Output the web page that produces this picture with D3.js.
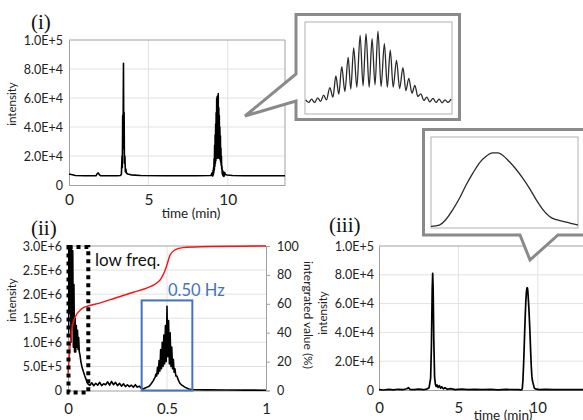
<!DOCTYPE html>
<html>
<head>
<meta charset="utf-8">
<script src="https://cdn.jsdelivr.net/npm/d3@7"></script>
<style>
  body { margin: 0; background: #fff; }
  svg { display: block; }
  .grid line { stroke: #e2e2e2; stroke-width: 1; }
</style>
</head>
<body>
<svg id="chart" width="583" height="420"></svg>
<script>
// ---- (i) raw chromatogram ----
var rawTime = [0, 0.15, 0.4, 1.0, 1.7, 1.78, 1.84, 1.92, 2.0, 3.0, 3.25, 3.3, 3.34, 3.36, 3.38, 3.4, 3.43, 3.45, 3.47, 3.49, 3.52, 3.55, 3.58, 3.62, 3.7, 3.9, 4.5, 6.0, 8.0, 8.9, 8.96,
  9.004, 9.020, 9.036, 9.052, 9.069, 9.085, 9.101, 9.117, 9.135, 9.152, 9.168, 9.184, 9.200, 9.217, 9.235, 9.249, 9.265, 9.282, 9.300, 9.316, 9.332, 9.349, 9.365, 9.381,
  9.397, 9.414, 9.432, 9.448, 9.464, 9.480, 9.498, 9.515, 9.533, 9.549, 9.565, 9.582, 9.598, 9.614, 9.630, 9.647, 9.663, 9.679, 9.697, 9.713, 9.730, 9.746, 9.762, 9.778, 9.795,
  9.85, 9.95, 10.3, 11.0, 13.6];
var rawIntensity = [7600, 7200, 6600, 6400, 6400, 7800, 8300, 7000, 6400, 6400, 6600, 7500, 20000, 12000, 48000, 25000, 84000, 30000, 50000, 15000, 20000, 9000, 11000, 8200, 7600, 7000, 6500, 6400, 6400, 6500, 7000,
  8300, 6200, 8800, 6200, 9900, 7000, 12000, 8300, 18100, 10400, 27300, 12800, 34700, 14900, 42100, 16800, 49800, 18400, 59800, 19400, 61100, 18400, 57200, 20200,
  63000, 18900, 53200, 18400, 47900, 18400, 40000, 17300, 33900, 15700, 25500, 13600, 19900, 11000, 13100, 7800, 10400, 6700, 9400, 6200, 8800, 5900, 8300, 6200, 8800,
  7200, 6900, 6500, 6400, 6400];
var rawZoom = [9.0, 9.8];

// ---- (ii) spectrum (amplitude in 1E+6) and cumulative share ----
var specFreq = [0, 0.003, 0.006, 0.009, 0.012, 0.015, 0.018, 0.021, 0.024, 0.027, 0.030, 0.033, 0.036, 0.039, 0.042, 0.045, 0.048, 0.051, 0.054, 0.057, 0.060, 0.065, 0.070, 0.077, 0.085, 0.094, 0.102, 0.111,
  0.12, 0.13, 0.14, 0.15, 0.16, 0.17, 0.18, 0.19, 0.20, 0.21, 0.22, 0.23, 0.24, 0.25, 0.26, 0.27, 0.28, 0.29, 0.30, 0.31, 0.32, 0.33, 0.34, 0.35, 0.36, 0.37, 0.38, 0.39, 0.40, 0.41, 0.42, 0.43, 0.44,
  0.444, 0.448, 0.452, 0.456, 0.460, 0.464, 0.468, 0.472, 0.476, 0.480, 0.484, 0.488, 0.492, 0.496, 0.500, 0.504, 0.508, 0.512, 0.516, 0.520, 0.524, 0.528, 0.532, 0.536, 0.540, 0.545, 0.550, 0.557, 0.565, 0.575, 0.590, 0.610, 0.630, 0.700, 0.800, 0.900, 1.0];
var specAmp = [3.2, 1.2, 3.3, 1.6, 3.4, 1.0, 3.1, 1.4, 2.9, 0.9, 2.2, 0.8, 1.5, 0.8, 1.35, 0.9, 1.25, 0.85, 1.1, 0.8, 0.75, 0.6, 0.5, 0.4, 0.3, 0.2, 0.13, 0.11,
  0.16, 0.10, 0.15, 0.11, 0.17, 0.10, 0.14, 0.12, 0.18, 0.11, 0.19, 0.12, 0.17, 0.10, 0.15, 0.09, 0.14, 0.08, 0.12, 0.08, 0.11, 0.07, 0.12, 0.07, 0.09, 0.05, 0.03, 0.05, 0.07, 0.09, 0.14, 0.20, 0.28,
  0.34, 0.30, 0.48, 0.35, 0.62, 0.40, 0.85, 0.45, 1.0, 0.50, 1.15, 0.55, 1.35, 0.60, 1.75, 0.70, 1.45, 0.55, 1.2, 0.50, 0.90, 0.45, 0.65, 0.38, 0.45, 0.30, 0.30, 0.22, 0.15, 0.11, 0.07, 0.03, 0.015, 0.012, 0.01, 0.008, 0.006];
var cumFreq = [0, 0.005, 0.01, 0.016, 0.022, 0.03, 0.037, 0.045, 0.061, 0.08, 0.1, 0.16, 0.24, 0.33, 0.4, 0.45, 0.47, 0.49, 0.5, 0.515, 0.54, 0.58, 0.67, 1.0];
var cumPct = [12, 20, 30, 38, 44, 49, 51, 53, 55.5, 57.5, 58.5, 60.5, 64, 68, 71, 74.5, 77.5, 83, 87, 93.5, 97.3, 98.9, 99.5, 100];
var lowFreqBand = [0, 0.1];
var passBand = [0.372, 0.628];
var passBandTop = 1.87;

// ---- (iii) filtered chromatogram ----
var filtTime = [0, 0.3, 0.6, 0.9, 1.2, 1.5, 1.75, 1.85, 1.95, 2.2, 2.5, 2.8, 3.0, 3.15, 3.25, 3.3, 3.35, 3.38, 3.41, 3.45, 3.5, 3.55, 3.6, 3.65, 3.72, 3.8, 3.88, 3.95, 4.05, 4.15, 4.3, 4.5, 4.8, 5.2, 5.6, 6.0, 6.5, 7.0, 7.5, 8.0, 8.5, 8.8,
  8.98, 9.025, 9.06, 9.098, 9.135, 9.171, 9.207, 9.244, 9.28, 9.316, 9.344, 9.37, 9.407, 9.444, 9.48, 9.516, 9.553, 9.59, 9.625, 9.662, 9.698, 9.735, 9.78,
  9.9, 10.1, 10.5, 11, 11.5, 12, 12.5, 13, 13.6];
var filtIntensity = [300, 0, 400, 100, 500, 200, 900, 1600, 500, 300, 600, 200, 600, 1500, 8000, 30000, 70000, 81000, 70000, 35000, 9000, 4000, 2500, 3500, 1800, 3000, 1300, 2200, 800, 1500, 500, 900, 300, 600, 200, 500, 200, 400, 150, 400, 200, 300,
  0, 1280, 6400, 16000, 27200, 40000, 51200, 61400, 67800, 71000, 71000, 68800, 62400, 55000, 46400, 36800, 25600, 16000, 9600, 6400, 4800, 3200, 1280,
  600, 300, 400, 200, 300, 200, 300, 200, 200];
var filtZoom = [8.98, 9.78];

// ticks
var intensityTicks = [0, 2e4, 4e4, 6e4, 8e4, 1e5];
var timeTicks = [0, 5, 10];
var specTicks = [0, 0.5, 1, 1.5, 2, 2.5, 3];
var pctTicks = [0, 20, 40, 60, 80, 100];
var freqTicks = [0, 0.5, 1];

var FONT = "Lato, 'Liberation Sans', sans-serif";
var SERIF = "'Liberation Serif', 'DejaVu Serif', serif";
var AXIS = "#a0a0a0";
var TXT = "#222";

var svg = d3.select("#chart");
svg.append("rect").attr("width", 583).attr("height", 420).attr("fill", "#fff");
var defs = svg.append("defs");

var fmtSci = function (v) {
  return v === 0 ? "0" : d3.format(".1e")(v).toUpperCase();
};

function styleAxis(sel, size) {
  sel.attr("font-family", FONT).attr("font-size", size);
  sel.selectAll("text").attr("fill", TXT);
  sel.select(".domain").attr("stroke", AXIS);
  sel.selectAll(".tick line").attr("stroke", AXIS);
}

function clipRect(id, x0, y0, w, h) {
  defs.append("clipPath").attr("id", id)
    .append("rect").attr("x", x0).attr("y", y0).attr("width", w).attr("height", h);
  return "url(#" + id + ")";
}

// chromatogram panel, used for (i) and (iii)
function chromPanel(cfg) {
  var x = d3.scaleLinear().domain([0, 13.6]).range([cfg.left, cfg.left + 216]);
  var y = d3.scaleLinear().domain([0, 1e5]).range([cfg.bottom, cfg.top]);
  var g = svg.append("g");
  var pts = cfg.time.map(function (t, i) { return { t: t, v: cfg.values[i] }; });

  var grid = g.append("g").attr("class", "grid");
  grid.selectAll(".h").data(intensityTicks.slice(1, -1)).join("line")
    .attr("x1", x(0)).attr("x2", x(13.6)).attr("y1", y).attr("y2", y);
  grid.selectAll(".v").data(timeTicks.slice(1)).join("line")
    .attr("x1", x).attr("x2", x).attr("y1", y(0)).attr("y2", y(1e5));

  // frame top / right
  g.append("path")
    .attr("d", "M" + x(0) + "," + y(1e5) + "H" + x(13.6) + "V" + y(0))
    .attr("fill", "none").attr("stroke", AXIS);

  g.append("g")
    .attr("transform", "translate(0," + y(0) + ")")
    .call(d3.axisBottom(x).tickValues(timeTicks).tickSize(0).tickPadding(cfg.xPad))
    .call(styleAxis, cfg.xFont);

  g.append("g")
    .attr("transform", "translate(" + x(0) + ",0)")
    .call(d3.axisLeft(y).tickValues(intensityTicks).tickFormat(fmtSci).tickSize(0).tickPadding(cfg.yPad))
    .call(styleAxis, 12.5);

  var line = d3.line().x(function (d) { return x(d.t); }).y(function (d) { return y(d.v); });
  g.append("path")
    .datum(pts)
    .attr("fill", "none")
    .attr("stroke", "#000")
    .attr("stroke-width", cfg.lineW)
    .attr("stroke-linejoin", "round")
    .attr("d", line);

  g.append("text")
    .attr("transform", "translate(" + cfg.yLabel[0] + "," + cfg.yLabel[1] + ") rotate(-90)")
    .attr("text-anchor", "middle")
    .attr("font-family", FONT).attr("font-size", 11.5).attr("fill", TXT)
    .text("intensity");

  g.append("text")
    .attr("x", cfg.xLabel[0]).attr("y", cfg.xLabel[1])
    .attr("text-anchor", "middle")
    .attr("font-family", FONT).attr("font-size", 13.5).attr("fill", TXT)
    .text("time (min)");

  g.append("text")
    .attr("x", cfg.tag[0]).attr("y", cfg.tag[1])
    .attr("font-family", SERIF).attr("font-size", 21).attr("fill", "#111")
    .text(cfg.tagText);

  return pts;
}

// callout box with a zoomed view of part of the series
function inset(cfg) {
  var g = svg.append("g");
  g.append("path")
    .attr("d", "M" + cfg.outline.map(function (p) { return p.join(","); }).join("L") + "Z")
    .attr("fill", "#fff")
    .attr("stroke", "#8a8a8a")
    .attr("stroke-width", 3)
    .attr("stroke-linejoin", "miter");
  var b = cfg.box;
  g.append("rect")
    .attr("x", b[0]).attr("y", b[1]).attr("width", b[2] - b[0]).attr("height", b[3] - b[1])
    .attr("fill", "#fff").attr("stroke", "#b0b0b0").attr("stroke-width", 1);
  var x = d3.scaleLinear().domain(cfg.xDomain).range([b[0], b[2]]);
  var y = d3.scaleLinear().domain(cfg.yDomain).range([b[3], b[1]]);
  var sub = cfg.pts.filter(function (d) { return d.t >= cfg.xDomain[0] - 0.02 && d.t <= cfg.xDomain[1] + 0.02; });
  g.append("path")
    .datum(sub)
    .attr("clip-path", clipRect(cfg.id, b[0], b[1], b[2] - b[0], b[3] - b[1]))
    .attr("fill", "none")
    .attr("stroke", "#2a2a2a")
    .attr("stroke-width", 1.3)
    .attr("d", d3.line().curve(d3.curveMonotoneX)
      .x(function (d) { return x(d.t); }).y(function (d) { return y(d.v); }));
}

// ---------- (i) ----------
var rawPts = chromPanel({
  time: rawTime, values: rawIntensity,
  left: 69, top: 40, bottom: 185,
  xPad: 9, xFont: 15.5, yPad: 6, lineW: 1.6,
  yLabel: [16, 104], xLabel: [191, 218], tag: [31, 29], tagText: "(i)"
});

// ---------- (iii) ----------
var filtPts = chromPanel({
  time: filtTime, values: filtIntensity,
  left: 379, top: 246, bottom: 390,
  xPad: 12, xFont: 15, yPad: 5, lineW: 1.7,
  yLabel: [327, 313], xLabel: [503, 420], tag: [329, 232], tagText: "(iii)"
});

// ---------- (ii) ----------
(function () {
  var left = 68, right = 266, top = 246, bottom = 390.5;
  var x = d3.scaleLinear().domain([0, 1]).range([left, right]);
  var yL = d3.scaleLinear().domain([0, 3]).range([bottom, top]);
  var yR = d3.scaleLinear().domain([0, 100]).range([bottom, top]);
  var g = svg.append("g");

  var grid = g.append("g").attr("class", "grid");
  grid.selectAll(".h").data(specTicks.slice(1, -1)).join("line")
    .attr("x1", left).attr("x2", right).attr("y1", yL).attr("y2", yL);
  grid.selectAll(".v").data([0.5]).join("line")
    .attr("x1", x).attr("x2", x).attr("y1", bottom).attr("y2", top);

  g.append("line").attr("x1", left).attr("x2", right).attr("y1", top).attr("y2", top).attr("stroke", AXIS);

  g.append("g")
    .attr("transform", "translate(0," + bottom + ")")
    .call(d3.axisBottom(x).tickValues(freqTicks).tickFormat(d3.format("")).tickSize(0).tickPadding(13))
    .call(styleAxis, 15);

  g.append("g")
    .attr("transform", "translate(" + left + ",0)")
    .call(d3.axisLeft(yL).tickValues(specTicks).tickFormat(function (d) { return fmtSci(d * 1e6); }).tickSize(0).tickPadding(6))
    .call(styleAxis, 12.5);

  g.append("g")
    .attr("transform", "translate(" + right + ",0)")
    .call(d3.axisRight(yR).tickValues(pctTicks).tickSize(4).tickPadding(7))
    .call(styleAxis, 12.5);

  var spec = specFreq.map(function (f, i) { return { f: f, a: specAmp[i] }; });
  g.append("path")
    .datum(spec)
    .attr("clip-path", clipRect("clip-spec", left, top, right - left, bottom - top + 2))
    .attr("fill", "none")
    .attr("stroke", "#000")
    .attr("stroke-width", 1.6)
    .attr("stroke-linejoin", "round")
    .attr("d", d3.line().x(function (d) { return x(d.f); }).y(function (d) { return yL(d.a); }));

  var cum = cumFreq.map(function (f, i) { return { f: f, p: cumPct[i] }; });
  g.append("path")
    .datum(cum)
    .attr("fill", "none")
    .attr("stroke", "#ff1010")
    .attr("stroke-width", 1.4)
    .attr("d", d3.line().curve(d3.curveMonotoneX).x(function (d) { return x(d.f); }).y(function (d) { return yR(d.p); }));

  // low frequency band
  g.append("rect")
    .attr("x", x(lowFreqBand[0]) + 0.5)
    .attr("y", yL(3) + 1)
    .attr("width", x(lowFreqBand[1]) - x(lowFreqBand[0]))
    .attr("height", yL(0) - yL(3) + 1)
    .attr("fill", "none")
    .attr("stroke", "#000")
    .attr("stroke-width", 4)
    .attr("stroke-dasharray", "4 4");
  g.append("text")
    .attr("x", 95).attr("y", 266)
    .attr("font-family", FONT).attr("font-size", 17).attr("fill", "#111")
    .text("low freq.");

  // 0.50 Hz band
  g.append("rect")
    .attr("x", x(passBand[0]))
    .attr("y", yL(passBandTop))
    .attr("width", x(passBand[1]) - x(passBand[0]))
    .attr("height", yL(0) - yL(passBandTop))
    .attr("fill", "none")
    .attr("stroke", "#4472c4")
    .attr("stroke-width", 2);
  g.append("text")
    .attr("x", 168).attr("y", 296)
    .attr("font-family", FONT).attr("font-size", 16.5).attr("fill", "#4472c4")
    .text("0.50 Hz");

  g.append("text")
    .attr("transform", "translate(16,300) rotate(-90)")
    .attr("text-anchor", "middle")
    .attr("font-family", FONT).attr("font-size", 11.5).attr("fill", TXT)
    .text("intensity");
  g.append("text")
    .attr("transform", "translate(304,315) rotate(90)")
    .attr("text-anchor", "middle")
    .attr("font-family", FONT).attr("font-size", 12).attr("fill", TXT)
    .text("intergrated value (%)");
  g.append("text")
    .attr("x", 173).attr("y", 431)
    .attr("text-anchor", "middle")
    .attr("font-family", FONT).attr("font-size", 14).attr("fill", TXT)
    .text("frequency (Hz)");
  g.append("text")
    .attr("x", 31).attr("y", 235)
    .attr("font-family", SERIF).attr("font-size", 21).attr("fill", "#111")
    .text("(ii)");
})();

// ---------- insets ----------
inset({
  id: "clip-in1", pts: rawPts, xDomain: rawZoom, yDomain: [-3000, 70400],
  outline: [[296, 74], [296, 14.5], [459.5, 14.5], [459.5, 119.5], [296, 119.5], [296, 101], [245, 116]],
  box: [305, 22, 452, 114]
});
inset({
  id: "clip-in2", pts: filtPts, xDomain: filtZoom, yDomain: [-1600, 86400],
  outline: [[520, 235], [423.5, 235], [423.5, 129.5], [592, 129.5], [592, 235], [558, 235], [530, 260]],
  box: [431, 137, 578, 228]
});
</script>
</body>
</html>
